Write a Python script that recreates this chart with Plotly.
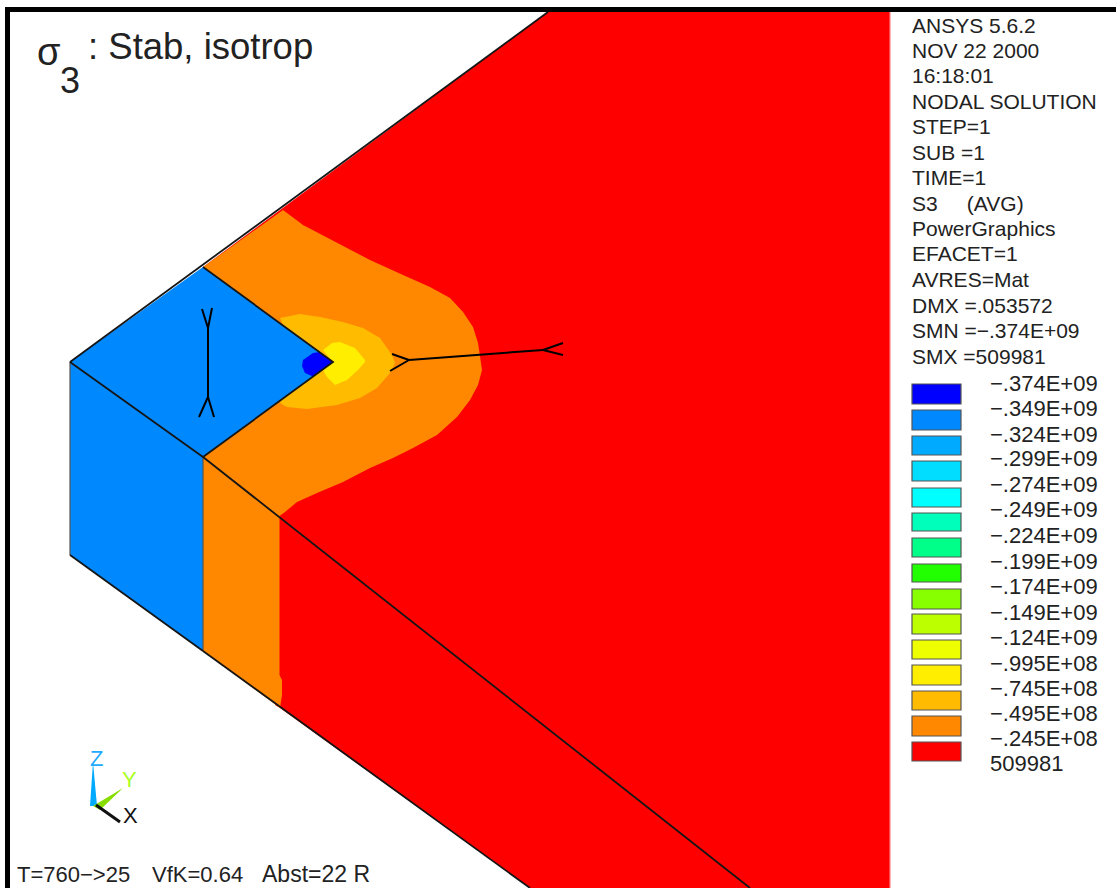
import plotly.graph_objects as go

# Contour legend
contour_labels = ["-.374E+09", "-.349E+09", "-.324E+09", "-.299E+09", "-.274E+09", "-.249E+09",
                  "-.224E+09", "-.199E+09", "-.174E+09", "-.149E+09", "-.124E+09", "-.995E+08",
                  "-.745E+08", "-.495E+08", "-.245E+08", "509981"]
label_y = [383, 408, 434, 458, 484, 509, 535, 561, 586, 612, 637, 663, 688, 713, 738, 763]
swatch_colors = ["#0000ff", "#0088ff", "#00aaff", "#00ddff", "#00ffff", "#00ffbb", "#00ff88", "#22ff00",
                 "#88ff00", "#bbff00", "#eeff00", "#ffee00", "#ffbb00", "#ff8800", "#ff0000"]
swatch_top = [384, 410, 436, 461, 488, 513, 538, 564, 589, 614, 640, 665, 691, 716, 742]
swatch_height = [20, 20, 19, 20, 19, 18, 19, 18, 20, 20, 19, 20, 19, 20, 19]

# Model info text
info_lines = ["ANSYS 5.6.2", "NOV 22 2000", "16:18:01", "NODAL SOLUTION", "STEP=1", "SUB =1", "TIME=1",
              "S3     (AVG)", "PowerGraphics", "EFACET=1", "AVRES=Mat", "DMX =.053572",
              "SMN =\u2212.374E+09", "SMX =509981"]
info_y = [25, 50, 75, 101, 126, 152, 177, 203, 228, 253, 279, 305, 330, 356]

# Contour regions
red_x = [548, 890, 890, 530, 280, 275, 275, 203, 203]
red_y = [12, 12, 888, 888, 708, 705, 515, 457, 267]
orange_x = [203, 283, 303, 337, 370, 403, 430, 450, 463, 473, 478, 481, 482, 478, 470, 457, 437, 413, 393, 370,
            343, 317, 297, 285, 279.5, 279.5, 282, 282, 280, 203]
orange_y = [267, 210, 225, 243, 260, 275, 287, 298, 312, 327, 343, 363, 370, 385, 400, 417, 435, 448, 458, 468,
            482, 493, 502, 512, 516, 675, 680, 695, 708, 651]
amber_x = [280, 300, 320, 343, 363, 380, 392, 395, 390, 377, 360, 337, 307, 287, 280, 300]
amber_y = [318, 314, 317, 322, 328, 338, 355, 363, 373, 388, 398, 405, 409, 407, 403, 362]
yellow_x = [333, 323, 332, 340, 355, 365, 365, 358, 347, 335, 327, 323]
yellow_y = [362, 350, 343, 342, 348, 360, 362, 370, 380, 385, 377, 370]
azure_x = [70, 203, 333, 203, 203, 70]
azure_y = [362, 267, 362, 457, 651, 555]
deep_x = [333, 320, 313, 303, 302, 305, 313]
deep_y = [362, 352, 353, 360, 366, 373, 376.6]

# Edges
edge_paths = [
    ([70, 548], [362, 12]),
    ([70, 203, 750], [362, 457, 888]),
    ([203, 333, 203], [267, 362, 457]),
    ([203, 530], [651, 888]),
    ([70, 203], [555, 651]),
]
thin_paths = [([70, 70], [362, 555]), ([203, 203], [457, 651]), ([890, 890], [12, 888])]
symbol_paths = [
    ([202, 208, 212], [309, 328, 308]),
    ([208, 208], [328, 397]),
    ([199, 208, 214], [417, 397, 417]),
    ([392, 409, 390], [354, 360, 371]),
    ([409, 543], [360, 350]),
    ([563, 543, 563], [343, 350, 355]),
]

# Coordinate triad
triad_z_x = [90, 93, 97]
triad_z_y = [806, 762, 806]
triad_y_x = [93, 123, 100]
triad_y_y = [806, 788, 810]
triad_x_x = [96, 120]
triad_x_y = [805, 822]

FONT = "Liberation Sans, Arial, sans-serif"
fig = go.Figure()


def poly(xs, ys, color):
    fig.add_trace(go.Scatter(x=xs + xs[:1], y=ys + ys[:1], mode="lines", fill="toself",
                             fillcolor=color, line=dict(width=0, color=color), hoverinfo="skip"))


poly(red_x, red_y, "#ff0000")
poly(orange_x, orange_y, "#ff8800")
poly(amber_x, amber_y, "#ffbb00")
poly(yellow_x, yellow_y, "#ffee00")
poly(azure_x, azure_y, "#0088ff")
poly(deep_x, deep_y, "#0000ff")
poly(triad_z_x, triad_z_y, "#00aaff")
poly(triad_y_x, triad_y_y, "#88dd00")

for xs, ys in thin_paths:
    c = "#ff8080" if xs[0] == 890 else "#555555"
    fig.add_trace(go.Scatter(x=xs, y=ys, mode="lines", line=dict(color=c, width=1.2), hoverinfo="skip"))
for xs, ys in edge_paths:
    fig.add_trace(go.Scatter(x=xs, y=ys, mode="lines", line=dict(color="#151515", width=1.8), hoverinfo="skip"))
for xs, ys in symbol_paths:
    fig.add_trace(go.Scatter(x=xs, y=ys, mode="lines", line=dict(color="#000000", width=2), hoverinfo="skip"))
fig.add_trace(go.Scatter(x=triad_x_x, y=triad_x_y, mode="lines", line=dict(color="#111111", width=3), hoverinfo="skip"))

# Page frame
fig.add_trace(go.Scatter(x=[7.5, 7.5, 1116], y=[888, 9.5, 9.5], mode="lines",
                         line=dict(color="#000000", width=5), hoverinfo="skip"))

# Legend swatches
fig.add_trace(go.Bar(x=[936.5] * len(swatch_top), y=swatch_height, base=swatch_top, width=49,
                     marker=dict(color=swatch_colors, line=dict(color="#555555", width=1.2)),
                     hoverinfo="skip"))


def text(x, y, s, size=20, color="#222222", anchor="left"):
    fig.add_annotation(x=x, y=y, text=s, showarrow=False, xanchor=anchor, yanchor="middle",
                       xref="x", yref="y", font=dict(family=FONT, size=size, color=color),
                       borderpad=0, borderwidth=0)


for s, y in zip(info_lines, info_y):
    text(912, y, s, size=21)
for s, y in zip(contour_labels, label_y):
    text(990, y, s.replace("-", "\u2212"), size=22)

text(37, 52, "\u03c3", size=38)
text(60, 80, "3", size=36)
text(88, 46, ": Stab, isotrop", size=36.5)
text(17, 874, "T=760\u2212>25", size=22)
text(152, 874, "VfK=0.64", size=22)
text(262, 874, "Abst=22 R", size=23)
text(96, 758, "Z", size=22, color="#22aaff", anchor="center")
text(129, 779, "Y", size=22, color="#aaff22", anchor="center")
text(130, 815, "X", size=22, color="#111111", anchor="center")

fig.update_layout(
    width=1116, height=888, margin=dict(l=0, r=0, t=0, b=0), showlegend=False,
    plot_bgcolor="#ffffff", paper_bgcolor="#ffffff", barmode="overlay",
    xaxis=dict(range=[0, 1116], visible=False, fixedrange=True),
    yaxis=dict(range=[888, 0], visible=False, fixedrange=True),
)

fig.write_html("out.html", config={"displayModeBar": False},
               post_script="document.body.style.margin='0';document.body.style.overflow='hidden';")
